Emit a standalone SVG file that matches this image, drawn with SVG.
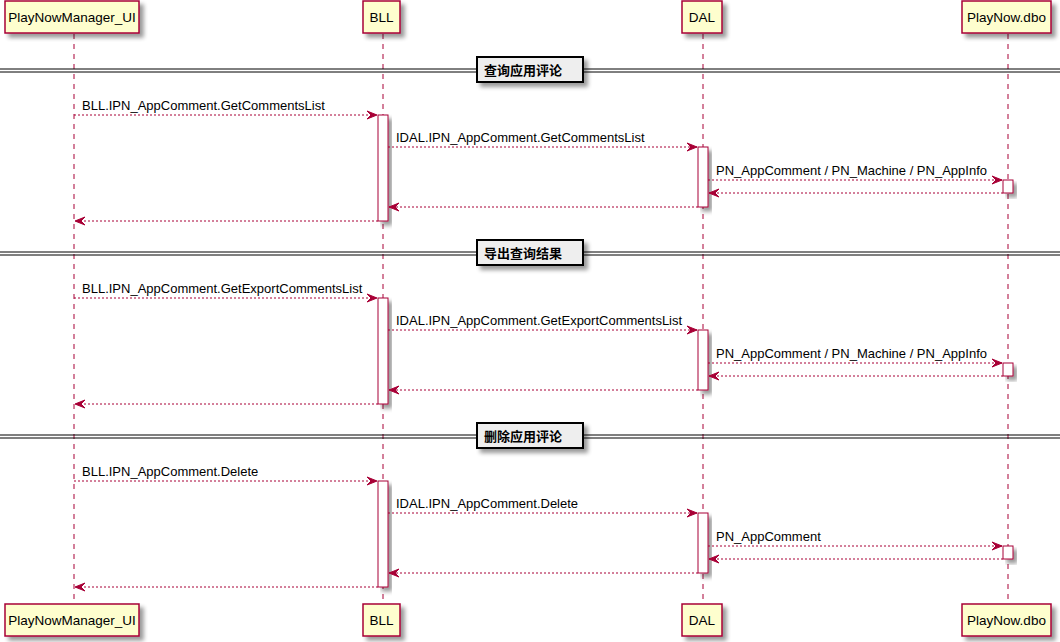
<svg xmlns="http://www.w3.org/2000/svg" width="1060" height="642" viewBox="0 0 1060 642">
<defs>
<filter id="sh" x="-20%" y="-20%" width="160%" height="160%">
<feGaussianBlur in="SourceAlpha" stdDeviation="2" result="b"/>
<feOffset in="b" dx="4" dy="4" result="o"/>
<feComponentTransfer in="o" result="o2"><feFuncA type="linear" slope="0.4"/></feComponentTransfer>
<feMerge><feMergeNode in="o2"/><feMergeNode in="SourceGraphic"/></feMerge>
</filter>
<marker id="ah" viewBox="0 0 10 8" refX="10" refY="4" markerWidth="10" markerHeight="8" markerUnits="userSpaceOnUse" orient="auto" overflow="visible">
<polygon points="0,0 10,4 0,8 4,4" fill="#A80036" stroke="#A80036" stroke-width="1" stroke-linejoin="miter"/>
</marker>
</defs>
<style>
.life{stroke:#A80036;stroke-width:1;stroke-dasharray:5,5;fill:none}
.part{fill:#FEFECE;stroke:#A80036;stroke-width:1.5}
.ptxt{font-family:"Liberation Sans",Arial,sans-serif;font-size:13.5px;fill:#000;text-anchor:middle}
.act{fill:#FFFFFF;stroke:#A80036;stroke-width:1}
.msg{stroke:#A80036;stroke-width:1;stroke-dasharray:2,2;fill:none;marker-end:url(#ah)}
.mtxt{font-family:"Liberation Sans",Arial,sans-serif;font-size:13px;fill:#000}
.dl{stroke:#000;stroke-width:1}
.dbox{fill:#EEEEEE;stroke:#000;stroke-width:2}
.dtxt{font-family:"Noto Sans CJK SC","Liberation Serif",serif;font-size:13px;font-weight:bold;fill:#000}
</style>
<rect width="1060" height="642" fill="#FFFFFF"/>

<g id="lifelines">
<line class="life" x1="74" y1="34" x2="74" y2="604"/>
<line class="life" x1="383" y1="34" x2="383" y2="604"/>
<line class="life" x1="703" y1="34" x2="703" y2="604"/>
<line class="life" x1="1008" y1="34" x2="1008" y2="604"/>
</g>

<g id="participant-ui-top"><rect class="part" x="5" y="1" width="134" height="32" filter="url(#sh)"/><text class="ptxt" x="72" y="22">PlayNowManager_UI</text></g>
<g id="participant-bll-top"><rect class="part" x="363" y="1" width="37" height="32" filter="url(#sh)"/><text class="ptxt" x="381.5" y="22">BLL</text></g>
<g id="participant-dal-top"><rect class="part" x="682" y="1" width="40" height="32" filter="url(#sh)"/><text class="ptxt" x="702" y="22">DAL</text></g>
<g id="participant-dbo-top"><rect class="part" x="962" y="1" width="89" height="32" filter="url(#sh)"/><text class="ptxt" x="1006.5" y="22">PlayNow.dbo</text></g>

<g id="participant-ui-bottom"><rect class="part" x="5" y="604" width="134" height="32" filter="url(#sh)"/><text class="ptxt" x="72" y="625">PlayNowManager_UI</text></g>
<g id="participant-bll-bottom"><rect class="part" x="363" y="604" width="37" height="32" filter="url(#sh)"/><text class="ptxt" x="381.5" y="625">BLL</text></g>
<g id="participant-dal-bottom"><rect class="part" x="682" y="604" width="40" height="32" filter="url(#sh)"/><text class="ptxt" x="702" y="625">DAL</text></g>
<g id="participant-dbo-bottom"><rect class="part" x="962" y="604" width="89" height="32" filter="url(#sh)"/><text class="ptxt" x="1006.5" y="625">PlayNow.dbo</text></g>

<g id="activations">
<rect class="act" x="378" y="115" width="10" height="106" filter="url(#sh)"/>
<rect class="act" x="698" y="147" width="10" height="60" filter="url(#sh)"/>
<rect class="act" x="1003" y="180" width="10" height="13" filter="url(#sh)"/>
<rect class="act" x="378" y="298" width="10" height="106" filter="url(#sh)"/>
<rect class="act" x="698" y="330" width="10" height="60" filter="url(#sh)"/>
<rect class="act" x="1003" y="363" width="10" height="13" filter="url(#sh)"/>
<rect class="act" x="378" y="481" width="10" height="106" filter="url(#sh)"/>
<rect class="act" x="698" y="513" width="10" height="60" filter="url(#sh)"/>
<rect class="act" x="1003" y="546" width="10" height="13" filter="url(#sh)"/>
</g>

<g id="divider-1">
<line class="dl" x1="0" y1="69" x2="1060" y2="69"/><line class="dl" x1="0" y1="72" x2="1060" y2="72"/>
<rect class="dbox" x="477" y="57" width="106" height="25" filter="url(#sh)"/>
<text class="dtxt" x="484" y="75">查询应用评论</text>
</g>
<g id="divider-2">
<line class="dl" x1="0" y1="252" x2="1060" y2="252"/><line class="dl" x1="0" y1="255" x2="1060" y2="255"/>
<rect class="dbox" x="477" y="240" width="106" height="25" filter="url(#sh)"/>
<text class="dtxt" x="484" y="258">导出查询结果</text>
</g>
<g id="divider-3">
<line class="dl" x1="0" y1="435" x2="1060" y2="435"/><line class="dl" x1="0" y1="438" x2="1060" y2="438"/>
<rect class="dbox" x="477" y="423" width="106" height="25" filter="url(#sh)"/>
<text class="dtxt" x="484" y="441">删除应用评论</text>
</g>

<g id="connectors">
<line class="msg" x1="74" y1="115" x2="377" y2="115"/>
<line class="msg" x1="388" y1="147" x2="697" y2="147"/>
<line class="msg" x1="708" y1="180" x2="1002" y2="180"/>
<line class="msg" x1="1003" y1="193" x2="709" y2="193"/>
<line class="msg" x1="698" y1="207" x2="389" y2="207"/>
<line class="msg" x1="378" y1="221" x2="75" y2="221"/>

<line class="msg" x1="74" y1="298" x2="377" y2="298"/>
<line class="msg" x1="388" y1="330" x2="697" y2="330"/>
<line class="msg" x1="708" y1="363" x2="1002" y2="363"/>
<line class="msg" x1="1003" y1="376" x2="709" y2="376"/>
<line class="msg" x1="698" y1="390" x2="389" y2="390"/>
<line class="msg" x1="378" y1="404" x2="75" y2="404"/>

<line class="msg" x1="74" y1="481" x2="377" y2="481"/>
<line class="msg" x1="388" y1="513" x2="697" y2="513"/>
<line class="msg" x1="708" y1="546" x2="1002" y2="546"/>
<line class="msg" x1="1003" y1="559" x2="709" y2="559"/>
<line class="msg" x1="698" y1="573" x2="389" y2="573"/>
<line class="msg" x1="378" y1="587" x2="75" y2="587"/>
</g>

<g id="labels">
<text class="mtxt" x="82" y="110">BLL.IPN_AppComment.GetCommentsList</text>
<text class="mtxt" x="396" y="142">IDAL.IPN_AppComment.GetCommentsList</text>
<text class="mtxt" x="716" y="175">PN_AppComment / PN_Machine / PN_AppInfo</text>
<text class="mtxt" x="82" y="293">BLL.IPN_AppComment.GetExportCommentsList</text>
<text class="mtxt" x="396" y="325">IDAL.IPN_AppComment.GetExportCommentsList</text>
<text class="mtxt" x="716" y="358">PN_AppComment / PN_Machine / PN_AppInfo</text>
<text class="mtxt" x="82" y="476">BLL.IPN_AppComment.Delete</text>
<text class="mtxt" x="396" y="508">IDAL.IPN_AppComment.Delete</text>
<text class="mtxt" x="716" y="541">PN_AppComment</text>
</g>
</svg>
